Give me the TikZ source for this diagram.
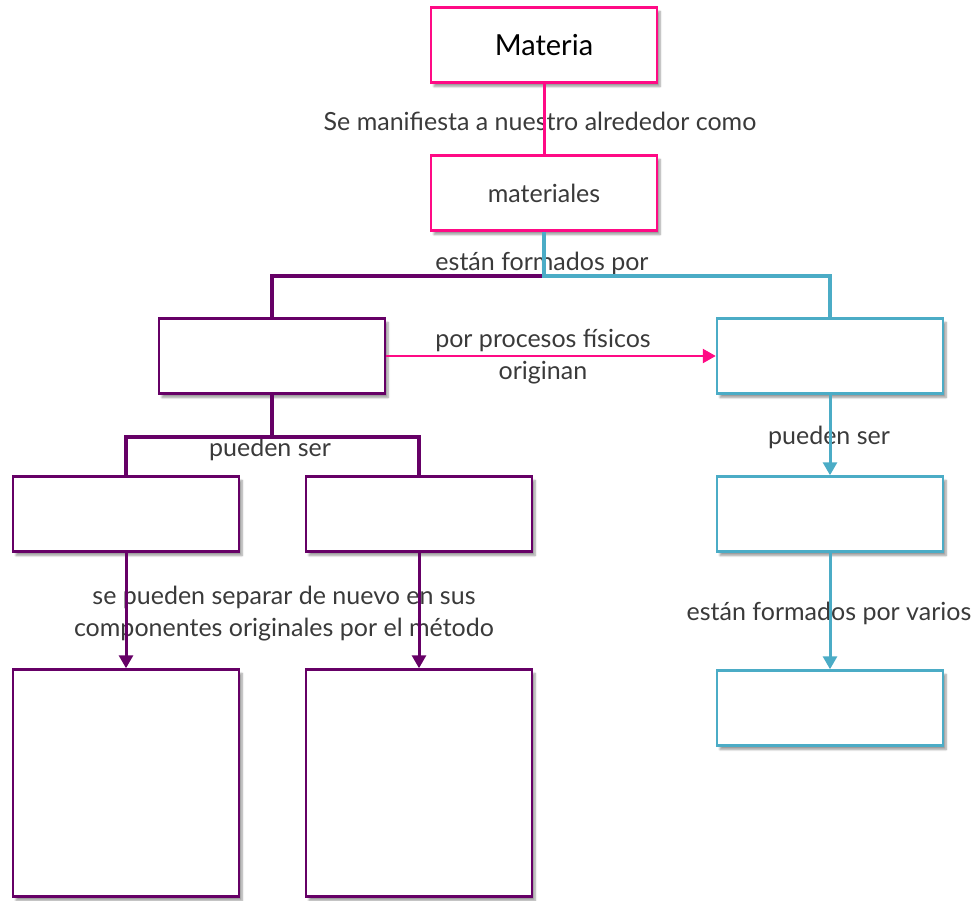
\documentclass[tikz,border=0pt]{standalone}
\usepackage{fontspec}
\setmainfont{Lato}
\usetikzlibrary{arrows.meta,shadows.blur}
\definecolor{rosa}{HTML}{FF0A85}
\definecolor{morado}{HTML}{660066}
\definecolor{celeste}{HTML}{4BACC6}
\definecolor{texto}{HTML}{3A3A3A}
\begin{document}
\begin{tikzpicture}[x=1pt, y=-1pt,
	caja/.style={rectangle, draw, line width=2.5pt, fill=white, minimum width=226pt, minimum height=75pt,
		blur shadow={shadow xshift=3pt, shadow yshift=-4pt, shadow blur steps=6, shadow opacity=40}},
	etiqueta/.style={text=texto, font=\fontsize{25}{32}\selectfont, align=center, inner sep=0pt},
	every path/.style={line width=3pt}]
			\useasboundingbox (0,0) rectangle (979,900);
			
			\node[etiqueta] (t1) at (540,121) {Se manifiesta a nuestro alrededor como};
			\node[etiqueta] (t2) at (542,263) {están formados por};
			\node[etiqueta] (t3) at (543,357) {por procesos físicos\\originan};
			\node[etiqueta] (t4) at (270,449) {pueden ser};
			\node[etiqueta] (t5) at (829,437) {pueden ser};
			\node[etiqueta] (t6) at (284,614) {se pueden separar de nuevo en sus\\componentes originales por el método};
			\node[etiqueta] (t7) at (829,613) {están formados por varios};
			
			\node[caja, draw=rosa, font=\fontsize{29}{34}\selectfont] (a) at (544,45) {Materia};
			\node[caja, draw=rosa, etiqueta, inner sep=0pt] (b) at (544,193) {materiales};
			\node[caja, draw=morado] (c) at (272,356) {};
			\node[caja, draw=celeste] (d) at (830,356) {};
			\node[caja, draw=morado] (e) at (126,514) {};
			\node[caja, draw=morado] (f) at (419,514) {};
			\node[caja, draw=celeste] (g) at (830,514) {};
			\node[caja, draw=morado, minimum height=227pt] (h) at (126,783) {};
			\node[caja, draw=morado, minimum height=227pt] (i) at (419,783) {};
			\node[caja, draw=celeste] (j) at (830,708) {};
			
			\path[draw=rosa] (a) -- (b);
			\path[draw=morado, line width=3.5pt] (b.south) -- ++(0,44) -| (c.north);
			\path[draw=celeste, line width=3.5pt] (b.south) -- ++(0,44) -| (d.north);
			\path[draw=rosa, line width=2.5pt, -{Triangle[length=13pt, width=14pt]}] (c) -- (d);
			\path[draw=morado, line width=3.5pt] (c.south) -- ++(0,42) -| (e.north);
			\path[draw=morado, line width=3.5pt] (c.south) -- ++(0,42) -| (f.north);
			\path[draw=morado, -{Triangle[length=13pt, width=14pt]}] (e) -- (h);
			\path[draw=morado, -{Triangle[length=13pt, width=14pt]}] (f) -- (i);
			\path[draw=celeste, -{Triangle[length=13pt, width=14pt]}] (d) -- (g);
			\path[draw=celeste, -{Triangle[length=13pt, width=14pt]}] (g) -- (j);
			\end{tikzpicture}
\end{document}
